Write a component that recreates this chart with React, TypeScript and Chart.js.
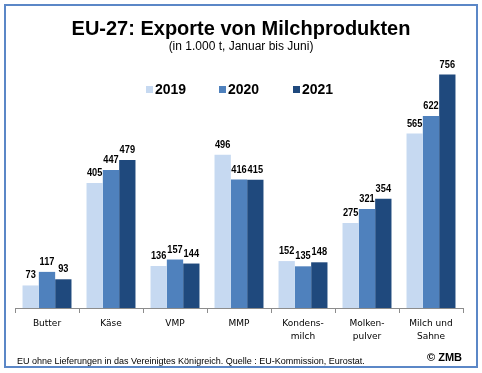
import React, { useEffect, useRef } from "react";
import { Chart, registerables } from "chart.js";

Chart.register(...registerables);

const categories: (string | string[])[] = [
  "Butter",
  "Käse",
  "VMP",
  "MMP",
  ["Kondens-", "milch"],
  ["Molken-", "pulver"],
  ["Milch und", "Sahne"],
];
const seriesNames = ["2019", "2020", "2021"];
const values2019 = [73, 405, 136, 496, 152, 275, 565];
const values2020 = [117, 447, 157, 416, 135, 321, 622];
const values2021 = [93, 479, 144, 415, 148, 354, 756];
const seriesColors = ["#c6d9f1", "#4f81bd", "#1f497d"];

const titleText = "EU-27: Exporte von Milchprodukten";
const subtitleText = "(in 1.000 t, Januar bis Juni)";
const footnoteText =
  "EU ohne Lieferungen in das Vereinigtes Königreich. Quelle : EU-Kommission, Eurostat.";
const copyrightText = "© ZMB";

const W = 482;
const H = 373;

const decorPlugin = {
  id: "decor",
  afterDraw(chart: any) {
    const ctx: CanvasRenderingContext2D = chart.ctx;
    ctx.save();
    // border
    ctx.strokeStyle = "#5b87c7";
    ctx.lineWidth = 2;
    ctx.strokeRect(5, 5, 472, 362);

    // title
    ctx.fillStyle = "#000";
    ctx.textAlign = "center";
    ctx.textBaseline = "alphabetic";
    ctx.font = "bold 20px 'Liberation Sans', Arial, sans-serif";
    ctx.fillText(titleText, 241, 35, 345);
    ctx.font = "12px 'Liberation Sans', Arial, sans-serif";
    ctx.fillText(subtitleText, 241, 50, 150);

    // legend
    const legendX = [146, 219, 293];
    ctx.textAlign = "left";
    ctx.font = "bold 14px 'Liberation Sans', Arial, sans-serif";
    chart.data.datasets.forEach((ds: any, i: number) => {
      ctx.fillStyle = ds.backgroundColor;
      ctx.fillRect(legendX[i], 86, 7, 7);
      ctx.fillStyle = "#000";
      ctx.fillText(ds.label, legendX[i] + 9, 94);
    });

    // data labels
    ctx.textAlign = "center";
    ctx.font = "bold 11px 'Liberation Sans Narrow', 'Arial Narrow', Arial, sans-serif";
    chart.data.datasets.forEach((ds: any, i: number) => {
      const meta = chart.getDatasetMeta(i);
      meta.data.forEach((el: any, j: number) => {
        const t = String(ds.data[j]);
        const w = ctx.measureText(t).width;
        ctx.fillText(t, el.x, el.y - 7, w * 0.84);
      });
    });

    // footnote
    ctx.textAlign = "left";
    ctx.font = "9px 'Liberation Sans', Arial, sans-serif";
    ctx.fillText(footnoteText, 17, 364, 349);
    ctx.textAlign = "right";
    ctx.font = "bold 11px 'Liberation Sans', Arial, sans-serif";
    ctx.fillText(copyrightText, 462, 361);
    ctx.restore();
  },
};

export default function App() {
  const ref = useRef<HTMLCanvasElement>(null);
  useEffect(() => {
    if (!ref.current) return;
    const chart = new Chart(ref.current, {
      type: "bar",
      data: {
        labels: categories,
        datasets: [values2019, values2020, values2021].map((d, i) => ({
          label: seriesNames[i],
          data: d,
          backgroundColor: seriesColors[i],
          borderWidth: 0,
          categoryPercentage: 0.765,
          barPercentage: 1,
        })),
      },
      options: {
        animation: false,
        responsive: false,
        devicePixelRatio: 1,
        layout: { padding: { left: 15, right: 19, top: 61, bottom: 0 } },
        plugins: {
          legend: { display: false },
          title: { display: false },
          tooltip: { enabled: false },
        },
        scales: {
          x: {
            afterFit: (scale: any) => {
              scale.height = 65;
            },
            border: { color: "#8c8c8c", width: 1 },
            grid: {
              display: true,
              drawOnChartArea: false,
              drawTicks: true,
              tickLength: 5,
              color: "#8c8c8c",
              offset: true,
            },
            ticks: {
              color: "#000",
              padding: 4,
              maxRotation: 0,
              autoSkip: false,
              font: { family: "'DejaVu Sans', Verdana, sans-serif", size: 9, lineHeight: 1.45 },
            },
          },
          y: {
            display: false,
            min: 0,
            max: 800,
          },
        },
      },
      plugins: [decorPlugin],
    });
    return () => chart.destroy();
  }, []);
  return (
    <div style={{ position: "absolute", left: 0, top: 0, width: W, height: H, background: "#fff" }}>
      <canvas ref={ref} width={W} height={H} style={{ width: W, height: H, display: "block" }} />
    </div>
  );
}
